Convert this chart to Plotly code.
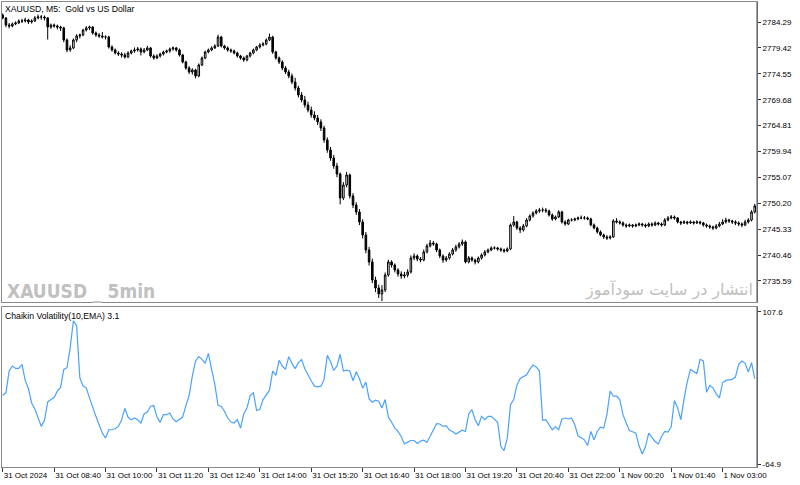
import plotly.graph_objects as go

# ---------------- data ----------------
bar_index = list(range(235))

opens = [
    2785.60, 2785.05, 2783.73, 2783.54, 2783.92, 2784.11, 2784.48, 2784.48, 2784.67, 2784.29,
    2784.48, 2785.05, 2785.23, 2785.23, 2785.05, 2783.35, 2783.73, 2783.54, 2783.35, 2783.17,
    2780.91, 2779.03, 2779.41, 2780.91, 2781.66, 2781.85, 2782.79, 2783.17, 2783.35, 2782.23,
    2781.85, 2781.66, 2781.47, 2781.47, 2779.59, 2779.03, 2778.46, 2778.28, 2778.09, 2777.71,
    2778.46, 2778.84, 2779.03, 2779.22, 2778.65, 2779.03, 2779.41, 2777.90, 2777.52, 2777.90,
    2778.28, 2778.65, 2778.84, 2779.22, 2779.41, 2779.03, 2778.09, 2776.77, 2775.64, 2774.89,
    2775.27, 2774.14, 2776.21, 2777.52, 2778.65, 2779.03, 2779.41, 2779.78, 2781.47, 2779.78,
    2779.41, 2779.03, 2778.84, 2778.46, 2777.90, 2777.52, 2777.15, 2777.90, 2778.46, 2779.03,
    2779.59, 2779.97, 2780.16, 2780.91, 2781.47, 2778.65, 2777.52, 2776.77, 2775.64, 2774.89,
    2774.14, 2773.01, 2771.88, 2770.57, 2769.63, 2768.69, 2767.75, 2766.81, 2766.24, 2765.49,
    2764.36, 2762.11, 2760.23, 2758.72, 2757.22, 2755.71, 2751.20, 2753.64, 2755.53, 2751.58,
    2749.88, 2748.57, 2746.69, 2744.24, 2741.42, 2739.17, 2735.78, 2734.28, 2733.15, 2733.90,
    2736.72, 2739.17, 2738.60, 2737.66, 2736.91, 2736.53, 2736.72, 2737.29, 2739.92, 2740.29,
    2739.73, 2739.54, 2741.05, 2742.18, 2742.74, 2742.55, 2741.42, 2740.29, 2739.54, 2739.92,
    2740.67, 2741.42, 2741.99, 2742.55, 2742.93, 2739.17, 2739.92, 2739.54, 2739.17, 2739.92,
    2740.48, 2741.05, 2741.42, 2741.80, 2741.80, 2741.61, 2741.42, 2741.23, 2741.61, 2746.12,
    2746.69, 2745.56, 2745.18, 2745.94, 2747.06, 2747.82, 2748.38, 2748.76, 2748.94, 2748.94,
    2748.76, 2748.00, 2747.25, 2747.63, 2748.57, 2746.69, 2746.31, 2747.06, 2747.06, 2747.25,
    2747.44, 2747.44, 2747.44, 2747.25, 2746.12, 2745.56, 2744.81, 2744.24, 2743.87, 2743.68,
    2743.87, 2746.88, 2746.69, 2746.50, 2746.12, 2745.94, 2746.12, 2745.94, 2746.12, 2746.31,
    2746.12, 2745.94, 2746.31, 2746.12, 2746.50, 2746.31, 2746.12, 2747.06, 2747.44, 2747.63,
    2747.44, 2746.69, 2746.50, 2746.69, 2746.50, 2746.69, 2746.50, 2746.69, 2746.50, 2746.12,
    2745.94, 2745.75, 2745.56, 2745.94, 2746.31, 2746.69, 2747.06, 2746.88, 2746.69, 2746.50,
    2746.31, 2746.12, 2746.69, 2747.06, 2748.57,
]

highs = [
    2785.90, 2785.20, 2784.10, 2784.20, 2784.40, 2784.80, 2784.90, 2785.10, 2784.90, 2784.80,
    2785.40, 2785.70, 2785.60, 2785.50, 2785.20, 2784.00, 2784.00, 2783.80, 2783.60, 2783.40,
    2781.20, 2779.90, 2781.20, 2782.00, 2782.10, 2783.00, 2783.50, 2783.60, 2783.50, 2782.50,
    2782.20, 2782.40, 2781.80, 2781.70, 2779.90, 2779.30, 2778.80, 2778.60, 2778.50, 2778.80,
    2779.10, 2779.50, 2779.60, 2779.50, 2779.40, 2779.80, 2779.60, 2778.20, 2778.20, 2778.50,
    2778.90, 2779.10, 2779.50, 2779.70, 2779.60, 2779.30, 2778.30, 2777.00, 2776.00, 2775.60,
    2775.50, 2776.50, 2777.80, 2778.90, 2779.30, 2779.70, 2780.10, 2781.90, 2781.70, 2780.00,
    2779.70, 2779.30, 2779.10, 2778.70, 2778.10, 2777.80, 2778.10, 2778.70, 2779.30, 2779.80,
    2780.30, 2780.50, 2781.20, 2782.10, 2781.70, 2778.90, 2777.80, 2777.10, 2776.00, 2775.30,
    2774.60, 2773.80, 2772.30, 2771.10, 2770.40, 2769.30, 2768.40, 2767.50, 2766.80, 2766.00,
    2764.80, 2762.60, 2760.80, 2759.30, 2757.80, 2756.00, 2754.20, 2756.10, 2755.80, 2752.10,
    2750.40, 2749.10, 2747.20, 2744.80, 2742.00, 2739.80, 2736.40, 2734.90, 2734.80, 2737.20,
    2739.60, 2739.50, 2738.90, 2738.00, 2737.40, 2737.30, 2737.80, 2740.40, 2740.80, 2740.60,
    2740.10, 2741.50, 2742.60, 2743.30, 2743.10, 2742.80, 2741.70, 2740.60, 2740.30, 2741.00,
    2741.80, 2742.40, 2742.90, 2743.40, 2743.20, 2740.30, 2740.20, 2739.80, 2740.20, 2740.80,
    2741.40, 2741.70, 2742.10, 2742.10, 2742.00, 2741.90, 2741.70, 2741.90, 2746.40, 2747.80,
    2746.90, 2745.90, 2746.30, 2747.40, 2748.10, 2748.70, 2749.10, 2749.30, 2749.40, 2749.30,
    2749.00, 2748.30, 2747.90, 2748.90, 2748.80, 2747.00, 2747.30, 2747.40, 2747.50, 2747.70,
    2747.90, 2747.80, 2747.70, 2747.50, 2746.40, 2745.80, 2745.10, 2744.50, 2744.20, 2744.20,
    2747.20, 2747.40, 2747.00, 2746.80, 2746.40, 2746.40, 2746.30, 2746.40, 2746.60, 2746.50,
    2746.40, 2746.60, 2746.60, 2746.80, 2746.70, 2746.60, 2747.40, 2747.80, 2748.00, 2747.90,
    2747.60, 2746.90, 2747.00, 2746.90, 2747.00, 2746.90, 2747.00, 2746.90, 2746.70, 2746.40,
    2746.20, 2746.00, 2746.30, 2746.70, 2747.20, 2747.50, 2747.30, 2747.10, 2747.00, 2746.80,
    2746.60, 2747.10, 2747.40, 2748.90, 2750.10,
]

lows = [
    2784.80, 2783.30, 2783.10, 2783.30, 2783.70, 2783.90, 2784.10, 2784.20, 2783.90, 2784.00,
    2784.30, 2784.80, 2784.70, 2784.60, 2781.00, 2783.00, 2783.20, 2782.90, 2782.60, 2780.50,
    2778.60, 2778.70, 2779.20, 2780.50, 2781.20, 2781.60, 2782.50, 2782.80, 2781.90, 2781.50,
    2781.30, 2781.20, 2781.00, 2779.30, 2778.70, 2778.20, 2777.90, 2777.60, 2777.40, 2777.50,
    2778.20, 2778.50, 2778.70, 2778.00, 2778.40, 2778.80, 2777.60, 2777.20, 2777.30, 2777.60,
    2778.00, 2778.40, 2778.50, 2778.90, 2778.70, 2777.80, 2776.50, 2775.30, 2774.50, 2774.40,
    2773.70, 2773.90, 2776.00, 2777.30, 2778.40, 2778.80, 2779.20, 2779.60, 2779.50, 2779.10,
    2778.70, 2778.50, 2778.20, 2777.60, 2777.20, 2776.80, 2776.90, 2777.60, 2778.20, 2778.80,
    2779.30, 2779.70, 2779.90, 2780.70, 2778.30, 2777.20, 2776.40, 2775.20, 2774.50, 2773.70,
    2772.60, 2771.40, 2770.10, 2769.20, 2768.20, 2767.30, 2766.30, 2765.80, 2764.90, 2763.80,
    2761.60, 2759.70, 2758.20, 2756.70, 2755.10, 2750.00, 2750.80, 2753.20, 2751.10, 2749.30,
    2748.00, 2746.10, 2743.60, 2740.80, 2738.50, 2735.20, 2733.50, 2732.40, 2731.80, 2733.50,
    2736.40, 2738.10, 2737.20, 2736.40, 2736.00, 2736.10, 2736.30, 2737.00, 2739.50, 2739.30,
    2739.10, 2739.30, 2740.80, 2741.90, 2742.20, 2741.00, 2739.90, 2739.00, 2739.20, 2739.60,
    2740.40, 2741.10, 2741.70, 2742.20, 2738.90, 2738.90, 2739.20, 2738.70, 2738.90, 2739.60,
    2740.20, 2740.80, 2741.20, 2741.50, 2741.30, 2741.10, 2740.90, 2741.00, 2741.40, 2745.80,
    2745.20, 2744.60, 2744.90, 2745.70, 2746.80, 2747.50, 2748.10, 2748.40, 2748.50, 2748.40,
    2747.70, 2746.90, 2747.00, 2747.40, 2746.40, 2746.00, 2746.10, 2746.80, 2746.80, 2747.00,
    2747.20, 2747.10, 2747.00, 2745.90, 2745.30, 2744.50, 2744.00, 2743.50, 2743.30, 2743.40,
    2743.70, 2746.40, 2746.20, 2745.80, 2745.60, 2745.70, 2745.60, 2745.70, 2745.90, 2745.80,
    2745.60, 2745.70, 2745.80, 2745.90, 2746.00, 2745.80, 2745.90, 2746.80, 2747.20, 2747.10,
    2746.40, 2746.10, 2746.30, 2746.20, 2746.30, 2746.20, 2746.30, 2746.20, 2745.80, 2745.60,
    2745.40, 2745.20, 2745.30, 2745.70, 2746.10, 2746.40, 2746.50, 2746.30, 2746.10, 2745.90,
    2745.70, 2745.90, 2746.40, 2746.80, 2748.30,
]

closes = [
    2785.05, 2783.73, 2783.54, 2783.92, 2784.11, 2784.48, 2784.48, 2784.67, 2784.29, 2784.48,
    2785.05, 2785.23, 2785.23, 2785.05, 2783.35, 2783.73, 2783.54, 2783.35, 2783.17, 2780.91,
    2779.03, 2779.41, 2780.91, 2781.66, 2781.85, 2782.79, 2783.17, 2783.35, 2782.23, 2781.85,
    2781.66, 2781.47, 2781.47, 2779.59, 2779.03, 2778.46, 2778.28, 2778.09, 2777.71, 2778.46,
    2778.84, 2779.03, 2779.22, 2778.65, 2779.03, 2779.41, 2777.90, 2777.52, 2777.90, 2778.28,
    2778.65, 2778.84, 2779.22, 2779.41, 2779.03, 2778.09, 2776.77, 2775.64, 2774.89, 2775.27,
    2774.14, 2776.21, 2777.52, 2778.65, 2779.03, 2779.41, 2779.78, 2781.47, 2779.78, 2779.41,
    2779.03, 2778.84, 2778.46, 2777.90, 2777.52, 2777.15, 2777.90, 2778.46, 2779.03, 2779.59,
    2779.97, 2780.16, 2780.91, 2781.47, 2778.65, 2777.52, 2776.77, 2775.64, 2774.89, 2774.14,
    2773.01, 2771.88, 2770.57, 2769.63, 2768.69, 2767.75, 2766.81, 2766.24, 2765.49, 2764.36,
    2762.11, 2760.23, 2758.72, 2757.22, 2755.71, 2751.20, 2753.64, 2755.53, 2751.58, 2749.88,
    2748.57, 2746.69, 2744.24, 2741.42, 2739.17, 2735.78, 2734.28, 2733.15, 2733.90, 2736.72,
    2739.17, 2738.60, 2737.66, 2736.91, 2736.53, 2736.72, 2737.29, 2739.92, 2740.29, 2739.73,
    2739.54, 2741.05, 2742.18, 2742.74, 2742.55, 2741.42, 2740.29, 2739.54, 2739.92, 2740.67,
    2741.42, 2741.99, 2742.55, 2742.93, 2739.17, 2739.92, 2739.54, 2739.17, 2739.92, 2740.48,
    2741.05, 2741.42, 2741.80, 2741.80, 2741.61, 2741.42, 2741.23, 2741.61, 2746.12, 2746.69,
    2745.56, 2745.18, 2745.94, 2747.06, 2747.82, 2748.38, 2748.76, 2748.94, 2748.94, 2748.76,
    2748.00, 2747.25, 2747.63, 2748.57, 2746.69, 2746.31, 2747.06, 2747.06, 2747.25, 2747.44,
    2747.44, 2747.44, 2747.25, 2746.12, 2745.56, 2744.81, 2744.24, 2743.87, 2743.68, 2743.87,
    2746.88, 2746.69, 2746.50, 2746.12, 2745.94, 2746.12, 2745.94, 2746.12, 2746.31, 2746.12,
    2745.94, 2746.31, 2746.12, 2746.50, 2746.31, 2746.12, 2747.06, 2747.44, 2747.63, 2747.44,
    2746.69, 2746.50, 2746.69, 2746.50, 2746.69, 2746.50, 2746.69, 2746.50, 2746.12, 2745.94,
    2745.75, 2745.56, 2745.94, 2746.31, 2746.69, 2747.06, 2746.88, 2746.69, 2746.50, 2746.31,
    2746.12, 2746.69, 2747.06, 2748.57, 2749.70,
]

chaikin = [
    13.0, 15.7, 40.4, 46.1, 43.4, 43.4, 48.0, 29.8, 20.6, 4.3,
    -2.5, -12.8, -22.3, -15.5, 5.4, 8.1, 10.4, 17.6, 21.8, 42.3,
    44.2, 67.0, 97.4, 91.7, 32.8, 23.3, 21.4, 10.0, -1.4, -10.9,
    -20.4, -29.9, -35.6, -26.1, -26.1, -25.0, -22.3, -14.7, -1.8, -12.0,
    -14.7, -12.8, -14.7, -18.5, -8.2, -6.0, 0.5, 1.3, -11.7, -17.7,
    -9.0, -9.0, -7.1, -13.9, -17.0, -14.7, -11.7, 1.3, 12.7, 34.7,
    51.8, 56.7, 53.7, 49.1, 60.5, 42.3, 25.2, 1.3, 0.5, -5.2,
    -12.8, -17.4, -18.5, -14.7, -24.2, -8.2, -1.4, 12.7, 15.7, -4.4,
    -3.3, 8.1, 13.4, 18.7, 40.4, 35.5, 52.6, 46.1, 42.3, 56.7,
    49.1, 43.1, 49.9, 53.3, 43.1, 35.5, 29.4, 23.3, 22.5, 23.3,
    30.9, 58.3, 51.0, 41.2, 46.1, 59.4, 40.4, 41.5, 40.4, 29.4,
    39.6, 31.7, 21.0, 27.9, 8.9, 5.1, 7.3, 6.2, -1.4, 8.1,
    -11.7, -17.7, -24.2, -28.0, -33.7, -42.1, -39.8, -38.3, -38.3, -41.7,
    -39.0, -37.9, -40.5, -33.3, -26.1, -19.3, -19.6, -22.3, -21.5, -26.5,
    -28.0, -31.0, -28.8, -26.5, -28.0, -8.2, -3.3, -14.7, -21.5, -10.9,
    -14.7, -10.9, -10.9, -13.9, -17.7, -45.1, -49.7, -35.6, 2.4, 8.1,
    24.4, 32.0, 34.3, 36.2, 42.3, 47.2, 45.0, 40.4, -15.5, -14.7,
    -20.4, -26.1, -22.7, -26.1, -13.9, -12.8, -13.9, -12.8, -20.4, -32.9,
    -35.2, -37.5, -44.0, -28.0, -37.5, -28.0, -23.1, -24.2, -9.0, 17.6,
    11.9, 11.9, 8.1, -9.0, -18.5, -26.9, -28.4, -29.9, -44.3, -53.5,
    -45.5, -29.9, -34.8, -39.4, -42.1, -33.7, -28.0, -28.8, -22.7, 7.0,
    -1.4, -14.7, 8.9, 28.2, 42.3, 40.4, 37.7, 53.7, 51.8, 16.5,
    24.1, 21.4, 14.6, 10.0, 27.1, 29.8, 30.5, 30.9, 33.9, 48.0,
    51.8, 49.1, 39.3, 49.9, 31.7,
]

time_tick_bars = [0, 16, 32, 48, 64, 80, 96, 112, 128, 144, 160, 176, 192, 208, 224]
time_tick_labels = [
    "31 Oct 2024", "31 Oct 08:40", "31 Oct 10:00", "31 Oct 11:20", "31 Oct 12:40",
    "31 Oct 14:00", "31 Oct 15:20", "31 Oct 16:40", "31 Oct 18:00", "31 Oct 19:20",
    "31 Oct 20:40", "31 Oct 22:00", "1 Nov 00:20", "1 Nov 01:40", "1 Nov 03:00",
]
price_ticks = [2784.29, 2779.42, 2774.55, 2769.68, 2764.81, 2759.94,
               2755.07, 2750.20, 2745.33, 2740.46, 2735.59]
price_tick_labels = ["2784.29", "2779.42", "2774.55", "2769.68", "2764.81", "2759.94",
                     "2755.07", "2750.20", "2745.33", "2740.46", "2735.59"]
vol_ticks = [107.6, -64.9]
vol_tick_labels = ["107.6", "-64.9"]

# ---------------- layout constants (pixels) ----------------
W, H = 800, 485
ML, MR, MT, MB = 2, 43, 2, 18
PW, PH = W - ML - MR, H - MT - MB
TOP_BOTTOM_PX = 302
BOT_TOP_PX = 307


def px_x(px):
    return (px - ML) / PW


def px_y(py):
    return (H - MB - py) / PH


FONT = "Liberation Sans, Arial, sans-serif"

fig = go.Figure()

fig.add_trace(go.Candlestick(
    x=bar_index, open=opens, high=highs, low=lows, close=closes,
    xaxis="x", yaxis="y",
    increasing=dict(line=dict(color="#000000", width=1), fillcolor="#ffffff"),
    decreasing=dict(line=dict(color="#000000", width=1), fillcolor="#000000"),
    whiskerwidth=0, showlegend=False, hoverinfo="skip",
))

fig.add_trace(go.Scatter(
    x=bar_index, y=chaikin, mode="lines", xaxis="x2", yaxis="y2",
    line=dict(color="#4aa2ff", width=1.2), showlegend=False, hoverinfo="skip",
))

xrange = [-0.22, 234.7]
axis_common = dict(showgrid=False, zeroline=False, showline=True, mirror=True,
                   linecolor="#8a8a8a", linewidth=1)

fig.update_layout(
    width=W, height=H,
    margin=dict(l=ML, r=MR, t=MT, b=MB, pad=0),
    paper_bgcolor="#ffffff", plot_bgcolor="#ffffff",
    showlegend=False,
    font=dict(family=FONT, size=8, color="#000000"),
    xaxis=dict(domain=[0, 1], range=xrange, anchor="y", showticklabels=False,
               ticks="", rangeslider=dict(visible=False), **axis_common),
    xaxis2=dict(domain=[0, 1], range=xrange, anchor="y2",
                tickvals=time_tick_bars, ticktext=time_tick_labels,
                ticks="outside", ticklen=4, tickcolor="#333333", tickwidth=1,
                ticklabelposition="outside right", tickangle=0,
                tickfont=dict(family=FONT, size=8, color="#000000"),
                **axis_common),
    yaxis=dict(domain=[px_y(TOP_BOTTOM_PX), 1], range=[2731.64, 2788.05],
               side="right", anchor="x",
               tickvals=price_ticks, ticktext=price_tick_labels,
               ticks="outside", ticklen=3, tickcolor="#333333",
               tickfont=dict(family=FONT, size=8, color="#000000"),
               **axis_common),
    yaxis2=dict(domain=[0, px_y(BOT_TOP_PX)], range=[-68.3, 112.96],
                side="right", anchor="x2",
                tickvals=vol_ticks, ticktext=vol_tick_labels,
                ticks="outside", ticklen=3, tickcolor="#333333",
                tickfont=dict(family=FONT, size=8, color="#000000"),
                **axis_common),
)

# right-hand price scale lines (darker)
for y0, y1 in [(px_y(TOP_BOTTOM_PX), 1), (0, px_y(BOT_TOP_PX))]:
    fig.add_shape(type="line", xref="paper", yref="paper", x0=1, x1=1, y0=y0, y1=y1,
                  line=dict(color="#4a4a4a", width=1))

annotations = [
    dict(text="XAUUSD, M5:  Gold vs US Dollar", x=px_x(3), y=px_y(2),
         font=dict(family=FONT, size=8.7, color="#000000")),
    dict(text="Chaikin Volatility(10,EMA) 3.1", x=px_x(3), y=px_y(309),
         font=dict(family=FONT, size=8.7, color="#000000")),
    dict(text="<b>XAUUSD _ 5min</b>", x=px_x(5), y=px_y(278),
         font=dict(family="DejaVu Sans Condensed, Liberation Sans Narrow, sans-serif",
                   size=19, color="#c0c0c0")),
    dict(text="انتشار در سایت سودآموز", x=px_x(583), y=px_y(278),
         font=dict(family="DejaVu Sans, sans-serif", size=16, color="#c0c0c0")),
]
for a in annotations:
    fig.add_annotation(xref="paper", yref="paper", xanchor="left", yanchor="top",
                       showarrow=False, align="left", **a)

fig.write_html("out.html")
